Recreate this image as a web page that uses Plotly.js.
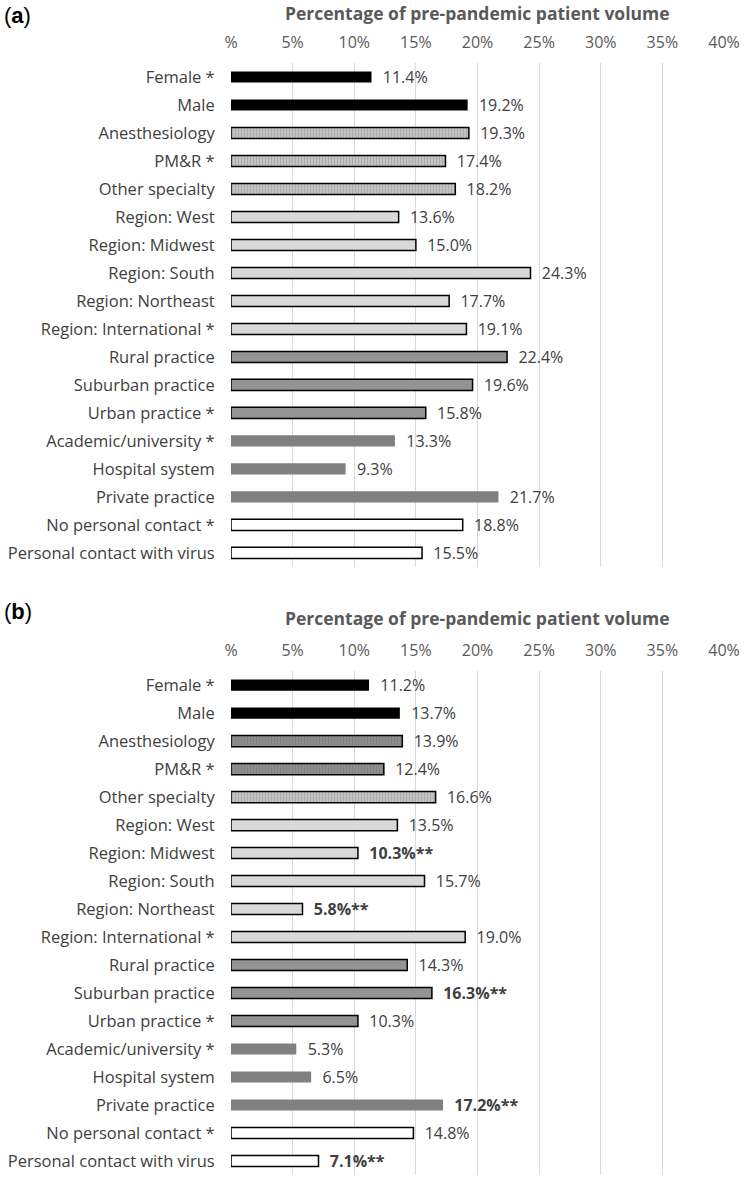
<!DOCTYPE html>
<html>
<head>
<meta charset="utf-8">
<script src="https://cdn.plot.ly/plotly-3.0.1.min.js"></script>
<style>body{margin:0;background:#fff}</style>
</head>
<body>
<div id="myDiv" style="width:744px;height:1177px"></div>
<script>
let categories = [
    "Female *", "Male", "Anesthesiology", "PM&R *", "Other specialty",
    "Region: West", "Region: Midwest", "Region: South", "Region: Northeast", "Region: International *",
    "Rural practice", "Suburban practice", "Urban practice *",
    "Academic/university *", "Hospital system", "Private practice",
    "No personal contact *", "Personal contact with virus"
];

let valuesA = [11.4, 19.2, 19.3, 17.4, 18.2, 13.6, 15.0, 24.3, 17.7, 19.1, 22.4, 19.6, 15.8, 13.3, 9.3, 21.7, 18.8, 15.5];
let valuesB = [11.2, 13.7, 13.9, 12.4, 16.6, 13.5, 10.3, 15.7, 5.8, 19.0, 14.3, 16.3, 10.3, 5.3, 6.5, 17.2, 14.8, 7.1];
// ** = significant change between (a) and (b)
let signifB = [false, false, false, false, false, false, true, false, true, false, false, true, false, false, false, true, false, true];

let groupsA = ["gender", "gender", "spec", "spec", "spec", "region", "region", "region", "region", "region",
    "setting", "setting", "setting", "type", "type", "type", "contact", "contact"];
let groupsB = ["gender", "gender", "specDark", "specDark", "spec", "region", "region", "region", "region", "region",
    "setting", "setting", "setting", "type", "type", "type", "contact", "contact"];

let tickVals = [0, 5, 10, 15, 20, 25, 30, 35, 40];
let tickText = ["%", "5%", "10%", "15%", "20%", "25%", "30%", "35%", "40%"];

const styles = {
    gender:   {color: "#000000", line: 0},
    spec:     {color: "#c2c2c2", line: 1.5, pattern: true},
    specDark: {color: "#8e8e8e", line: 1.5, pattern: true},
    region:   {color: "#d9d9d9", line: 1.5},
    setting:  {color: "#939393", line: 1.5},
    type:     {color: "#808080", line: 0},
    contact:  {color: "#ffffff", line: 1.5}
};

const FONT = "'Open Sans', Lato, sans-serif";
const pad = "\u00a0\u00a0";

function makeTrace(values, groups, signif, xa, ya) {
    let st = groups.map(g => styles[g]);
    return {
        type: "bar",
        orientation: "h",
        x: values,
        y: categories,
        xaxis: xa,
        yaxis: ya,
        text: values.map((v, i) => signif && signif[i] ? pad + "<b>" + v.toFixed(1) + "%**</b>" : pad + v.toFixed(1) + "%"),
        textposition: "outside",
        cliponaxis: false,
        constraintext: "none",
        textfont: {family: FONT, size: 16, color: "#404040"},
        hoverinfo: "skip",
        marker: {
            color: st.map(s => s.color),
            line: {color: "#000000", width: st.map(s => s.line)},
            pattern: {
                shape: st.map(s => s.pattern ? "|" : ""),
                fillmode: "overlay",
                fgcolor: "#666666",
                fgopacity: 0.2,
                size: 3,
                solidity: 0.3
            }
        }
    };
}

var data = [
    makeTrace(valuesA, groupsA, null, "x", "y"),
    makeTrace(valuesB, groupsB, signifB, "x2", "y2")
];

function xAxis(anchor) {
    return {
        anchor: anchor,
        side: "top",
        range: [0, 40],
        tickvals: tickVals,
        ticktext: tickText,
        ticks: "outside",
        ticklen: 8,
        tickcolor: "rgba(0,0,0,0)",
        tickfont: {family: FONT, size: 16, color: "#595959"},
        showgrid: true,
        gridcolor: "#d9d9d9",
        gridwidth: 1,
        zeroline: false,
        showline: false,
        fixedrange: true
    };
}

function yAxis(anchor, domain) {
    return {
        anchor: anchor,
        domain: domain,
        autorange: "reversed",
        ticks: "outside",
        ticklen: 12,
        tickcolor: "rgba(0,0,0,0)",
        tickfont: {family: FONT, size: 16.5, color: "#404040"},
        showgrid: false,
        zeroline: false,
        showline: false,
        fixedrange: true
    };
}

let titleText = "<b>Percentage of pre-pandemic patient volume</b>";

var layout = {
    width: 744,
    height: 1177,
    margin: {l: 231, r: 20, t: 63, b: 2},
    showlegend: false,
    bargap: 0.6,
    plot_bgcolor: "#ffffff",
    paper_bgcolor: "#ffffff",
    xaxis: xAxis("y"),
    yaxis: yAxis("x", [0.5468, 1]),
    xaxis2: xAxis("y2"),
    yaxis2: yAxis("x2", [0, 0.4532]),
    annotations: [
        {text: titleText, xref: "paper", yref: "paper", x: 0.5, y: 1.045, xanchor: "center", yanchor: "middle",
         showarrow: false, font: {family: FONT, size: 17.5, color: "#595959"}},
        {text: titleText, xref: "paper", yref: "paper", x: 0.5, y: 0.5009, xanchor: "center", yanchor: "middle",
         showarrow: false, font: {family: FONT, size: 17.5, color: "#595959"}},
        {text: "(<b>a</b>)", xref: "paper", yref: "paper", x: -0.464, y: 1.043, xanchor: "left", yanchor: "middle",
         showarrow: false, font: {family: "Liberation Sans, Arial, sans-serif", size: 22, color: "#000000"}},
        {text: "(<b>b</b>)", xref: "paper", yref: "paper", x: -0.464, y: 0.5063, xanchor: "left", yanchor: "middle",
         showarrow: false, font: {family: "Liberation Sans, Arial, sans-serif", size: 22, color: "#000000"}}
    ]
};

Plotly.newPlot("myDiv", data, layout, {displayModeBar: false, staticPlot: true});
</script>
</body>
</html>
